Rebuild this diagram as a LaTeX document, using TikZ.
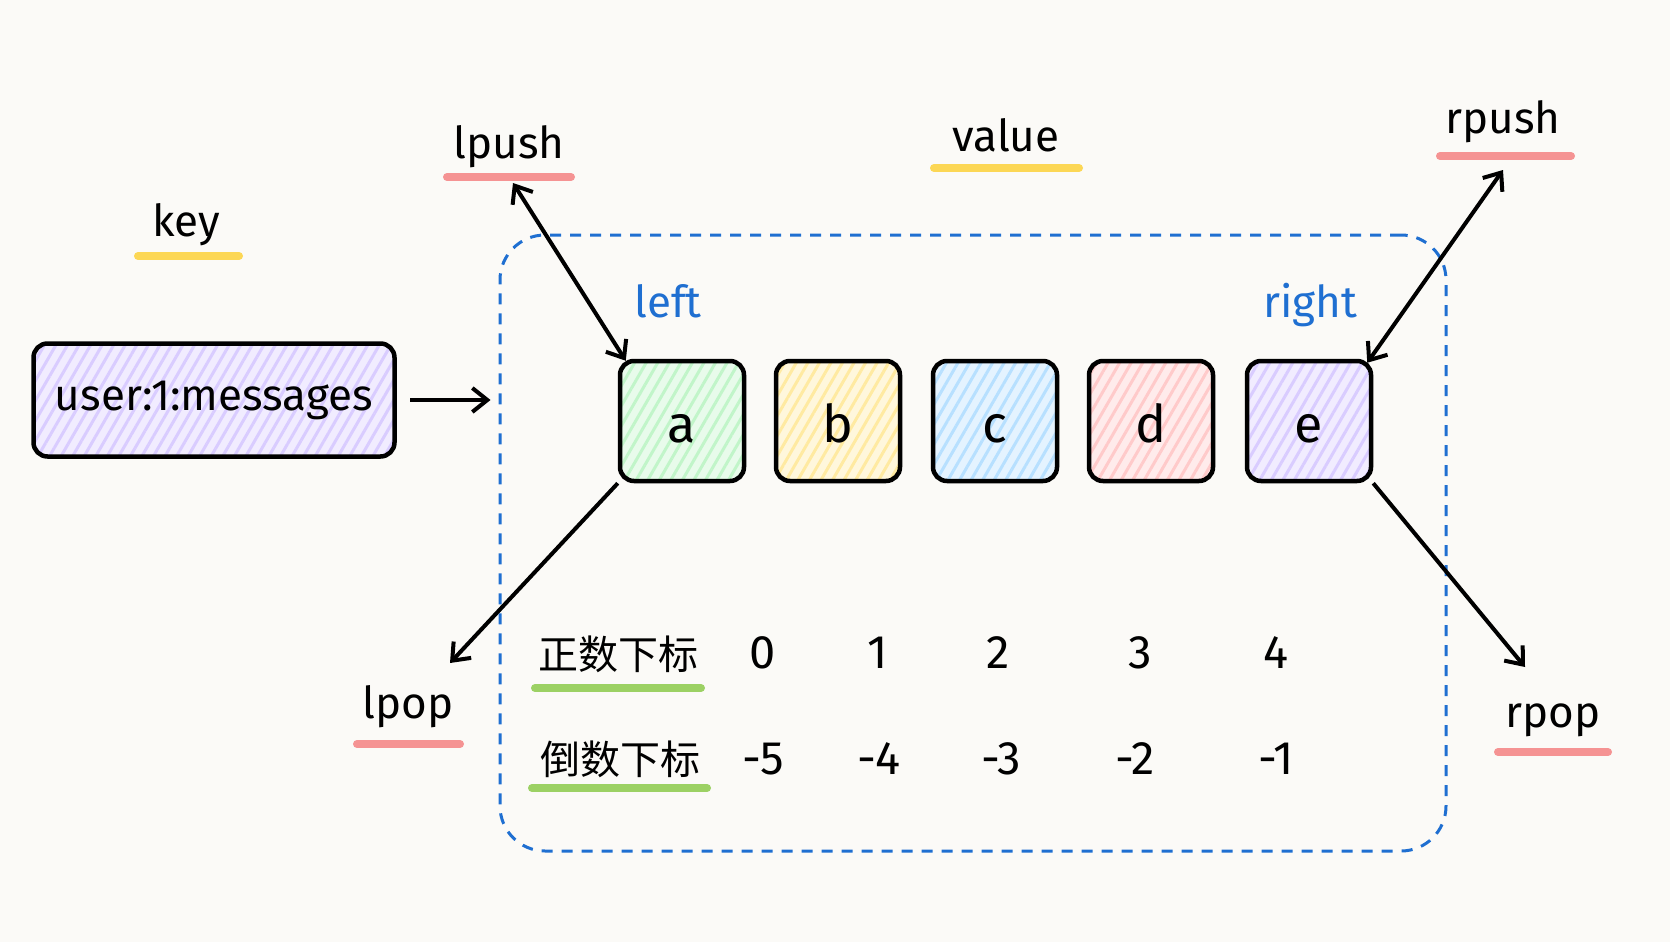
\documentclass[tikz,border=0pt]{standalone}
\usepackage{fontspec}
\setmainfont{Fira Sans}
\newfontfamily\cjk{Noto Sans CJK SC}
\usetikzlibrary{arrows.meta,patterns.meta}
\definecolor{bg}{HTML}{FBFAF7}
\definecolor{cg}{HTML}{B2F2BB}
\definecolor{cy}{HTML}{FFE58A}
\definecolor{cb}{HTML}{A5D8FF}
\definecolor{cr}{HTML}{FFBDBD}
\definecolor{cp}{HTML}{D0BFFF}
\definecolor{ulred}{HTML}{F59393}
\definecolor{ulyel}{HTML}{FCD755}
\definecolor{ulgrn}{HTML}{9CD164}
\definecolor{bl}{HTML}{1F6FD1}
\begin{document}
\begin{tikzpicture}[x=1pt,y=-1pt,
  lbl/.style={font=\fontsize{44}{50}\selectfont, anchor=base, inner sep=0pt},
  num/.style={font=\fontsize{47}{52}\selectfont, anchor=base, inner sep=0pt},
  cjkl/.style={font=\cjk\fontsize{40}{46}\selectfont, anchor=base, inner sep=0pt},
  cell/.style={draw=black, line width=4.5pt, rounded corners=14pt, minimum width=124pt, minimum height=120pt, inner sep=0pt, text height=42pt, text depth=0pt, font=\fontsize{52}{60}\selectfont},
  hach/.style={preaction={fill=#1!30!white}, pattern={Lines[angle=60,distance=10pt,line width=3pt]}, pattern color=#1!80!white},
  ul/.style={line width=8pt, line cap=round},
  arr/.style={line width=4pt, -{Straight Barb[length=15pt,width=24pt,line width=4pt]}},
  darr/.style={line width=4pt, {Straight Barb[length=15pt,width=24pt,line width=4pt]}-{Straight Barb[length=15pt,width=24pt,line width=4pt]}},
  container/.style={draw=bl, line width=3pt, dash pattern=on 11pt off 9pt, rounded corners=45pt, minimum width=946pt, minimum height=616pt, inner sep=0pt}
]
\fill[bg] (0,0) rectangle (1670,942);
\useasboundingbox (0,0) rectangle (1670,942);

% container
\node[container] (list) at (973,543) {};

% key box
\node[draw=black, line width=4.5pt, rounded corners=14pt, minimum width=361pt, minimum height=113pt, inner sep=0pt, hach=cp, font=\fontsize{44}{50}\selectfont] (key) at (214,400) {user:1:messages};

% cells
\node[cell, hach=cg] (a) at (682,421) {a};
\node[cell, hach=cy] (b) at (838,421) {b};
\node[cell, hach=cb] (c) at (995,421) {c};
\node[cell, hach=cr] (d) at (1151,421) {d};
\node[cell, hach=cp] (e) at (1309,421) {e};

% labels with underlines
\node[lbl] (keylbl) at (186,236) {key};
\draw[ul, ulyel] (138,256) -- (239,256);
\node[lbl] (lpush) at (509,158) {lpush};
\draw[ul, ulred] (447,177) -- (571,177);
\node[lbl] (value) at (1006,151) {value};
\draw[ul, ulyel] (934,168) -- (1079,168);
\node[lbl] (rpush) at (1503,133) {rpush};
\draw[ul, ulred] (1440,156) -- (1571,156);
\node[lbl] (lpop) at (408,718) {lpop};
\draw[ul, ulred] (357,744) -- (460,744);
\node[lbl] (rpop) at (1553,727) {rpop};
\draw[ul, ulred] (1498,752) -- (1608,752);

\node[lbl, text=bl] (left) at (668,317) {left};
\node[lbl, text=bl] (right) at (1310,317) {right};

% index rows
\node[cjkl] (pos) at (618,669) {正数下标};
\draw[ul, ulgrn] (535,688) -- (701,688);
\node[cjkl] (neg) at (620,774) {倒数下标};
\draw[ul, ulgrn] (532,788) -- (707,788);

\node[num] (p0) at (763,668) {0};
\node[num] (p1) at (878,668) {1};
\node[num] (p2) at (998,668) {2};
\node[num] (p3) at (1140,668) {3};
\node[num] (p4) at (1276,668) {4};
\node[num] (n0) at (763,774) {-5};
\node[num] (n1) at (879,774) {-4};
\node[num] (n2) at (1001,774) {-3};
\node[num] (n3) at (1135,774) {-2};
\node[num] (n4) at (1276,774) {-1};

% connectors
\draw[arr, shorten <=14pt, shorten >=8pt] (key.east) -- (list.west |- key.east);
\coordinate (lpushEnd) at (513,183);
\coordinate (rpushEnd) at (1503,170);
\coordinate (lpopEnd) at (450,663);
\coordinate (rpopEnd) at (1525,667);
\draw[darr] (lpushEnd) -- ([shift={(8pt,-2pt)}]a.north west);
\draw[darr] (rpushEnd) -- ([shift={(-6pt,-4pt)}]e.north east);
\draw[arr] (a.south west) -- (lpopEnd);
\draw[arr] (e.south east) -- (rpopEnd);
\end{tikzpicture}
\end{document}
